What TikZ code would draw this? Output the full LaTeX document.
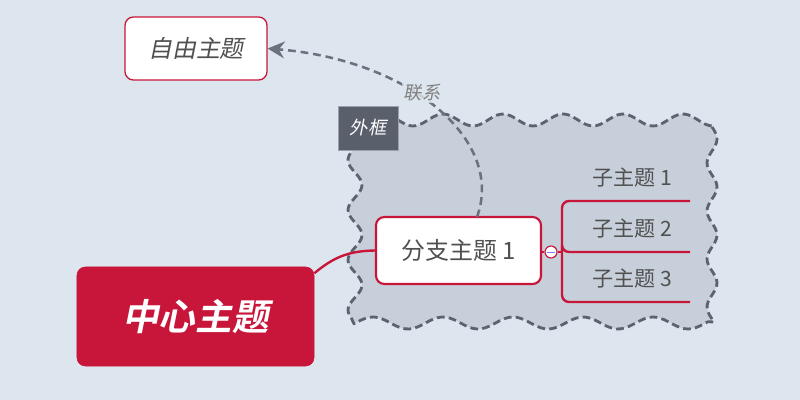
\documentclass[tikz,border=0pt]{standalone}
\usepackage{fontspec}
\setmainfont{Noto Sans CJK SC}[AutoFakeSlant=0.2,BoldItalicFont={* Bold},BoldItalicFeatures={FakeSlant=0.2}]
\usetikzlibrary{arrows.meta}
\definecolor{bgcol}{HTML}{DDE5EE}
\definecolor{fencefill}{HTML}{C7D0DA}
\definecolor{fenceline}{HTML}{5B6370}
\definecolor{topicred}{HTML}{C8153A}
\definecolor{textgrey}{HTML}{505050}
\definecolor{tagfill}{HTML}{5A5F6C}
\tikzset{
  topicbox/.style={rounded corners=6pt,draw=topicred,fill=white,text=textgrey,inner sep=0pt},
  branchline/.style={draw=topicred,line width=1.7pt},
  fencestyle/.style={fill=fencefill,draw=fenceline,line width=2pt,dash pattern=on 5.5pt off 3pt,line join=round},
}
\begin{document}
\begin{tikzpicture}[x=0.025cm,y=-0.025cm]
\fill[bgcol] (0,0) rectangle (800,400);
\useasboundingbox (0,0) rectangle (800,400);
% boundary
\path[fencestyle] plot[domain=398:713,samples=90,smooth] (\x,{120+6*sin((\x-458)*6)})
  -- plot[domain=126:322,samples=60,smooth] ({712+5*sin((\x-175)*7.5)},\x)
  -- plot[domain=708:354,samples=90,smooth] (\x,{323+6*sin((\x-460.5)*5.14)})
  -- plot[domain=318:150,samples=60,smooth] ({355+7*sin((\x-172.5)*7.2)},\x) -- cycle;
\node[fill=tagfill,draw=fenceline!60,line width=0.6pt,text=white,minimum width=1.5cm,minimum height=1.1cm,inner sep=0pt,font=\fontsize{13}{13}\selectfont\itshape] (tag) at (368,128) {外框};
% topics
\node[topicbox,fill=topicred,draw=topicred,text=white,minimum width=5.925cm,minimum height=2.475cm,font=\fontsize{26}{26}\selectfont\bfseries\itshape] (center) at (195.5,316.5) {中心主题};
\node[topicbox,line width=1.5pt,minimum width=4.125cm,minimum height=1.675cm,font=\fontsize{17}{17}\selectfont] (branch) at (458.5,250.5) {分支主题 1};
\node[topicbox,line width=0.9pt,minimum width=3.55cm,minimum height=1.575cm,font=\fontsize{17}{17}\selectfont\itshape] (free) at (196,48.5) {自由主题};
\draw[branchline] (center.20) .. controls (335,256) and (350,251) .. (branch.west);
\node[circle,draw=topicred,fill=white,line width=0.8pt,minimum size=0.3cm,inner sep=0pt] (fold) at (551,252) {};
\draw[blue!50,line width=0.5pt] ([xshift=-2.5pt]fold.center) -- ([xshift=2.5pt]fold.center);
\draw[branchline] (branch.east |- fold) -- (fold.west);
\coordinate (fork) at (562,252);
\draw[branchline] (fold.east) -- (fork);
\foreach \i/\y in {1/201,2/252,3/302}{
  \node[text=textgrey,font=\fontsize{15}{15}\selectfont] (sub\i) at (632,\y-23) {子主题 \i};
  \coordinate (end\i) at (690,\y);
  \draw[branchline,rounded corners=5pt] (fork) |- (end\i);
}
% relationship
\draw[fenceline!90,line width=1.8pt,dash pattern=on 5.5pt off 3.5pt,-{Stealth[length=12pt,width=12pt,inset=4pt]}] (477,217) .. controls (505,140) and (410,60) .. (free.east);
\node[fill=bgcol,fill opacity=0.8,text opacity=1,text=gray,inner sep=1pt,font=\fontsize{13}{13}\selectfont\itshape] (rel) at (422,93) {联系};
\end{tikzpicture}
\end{document}
